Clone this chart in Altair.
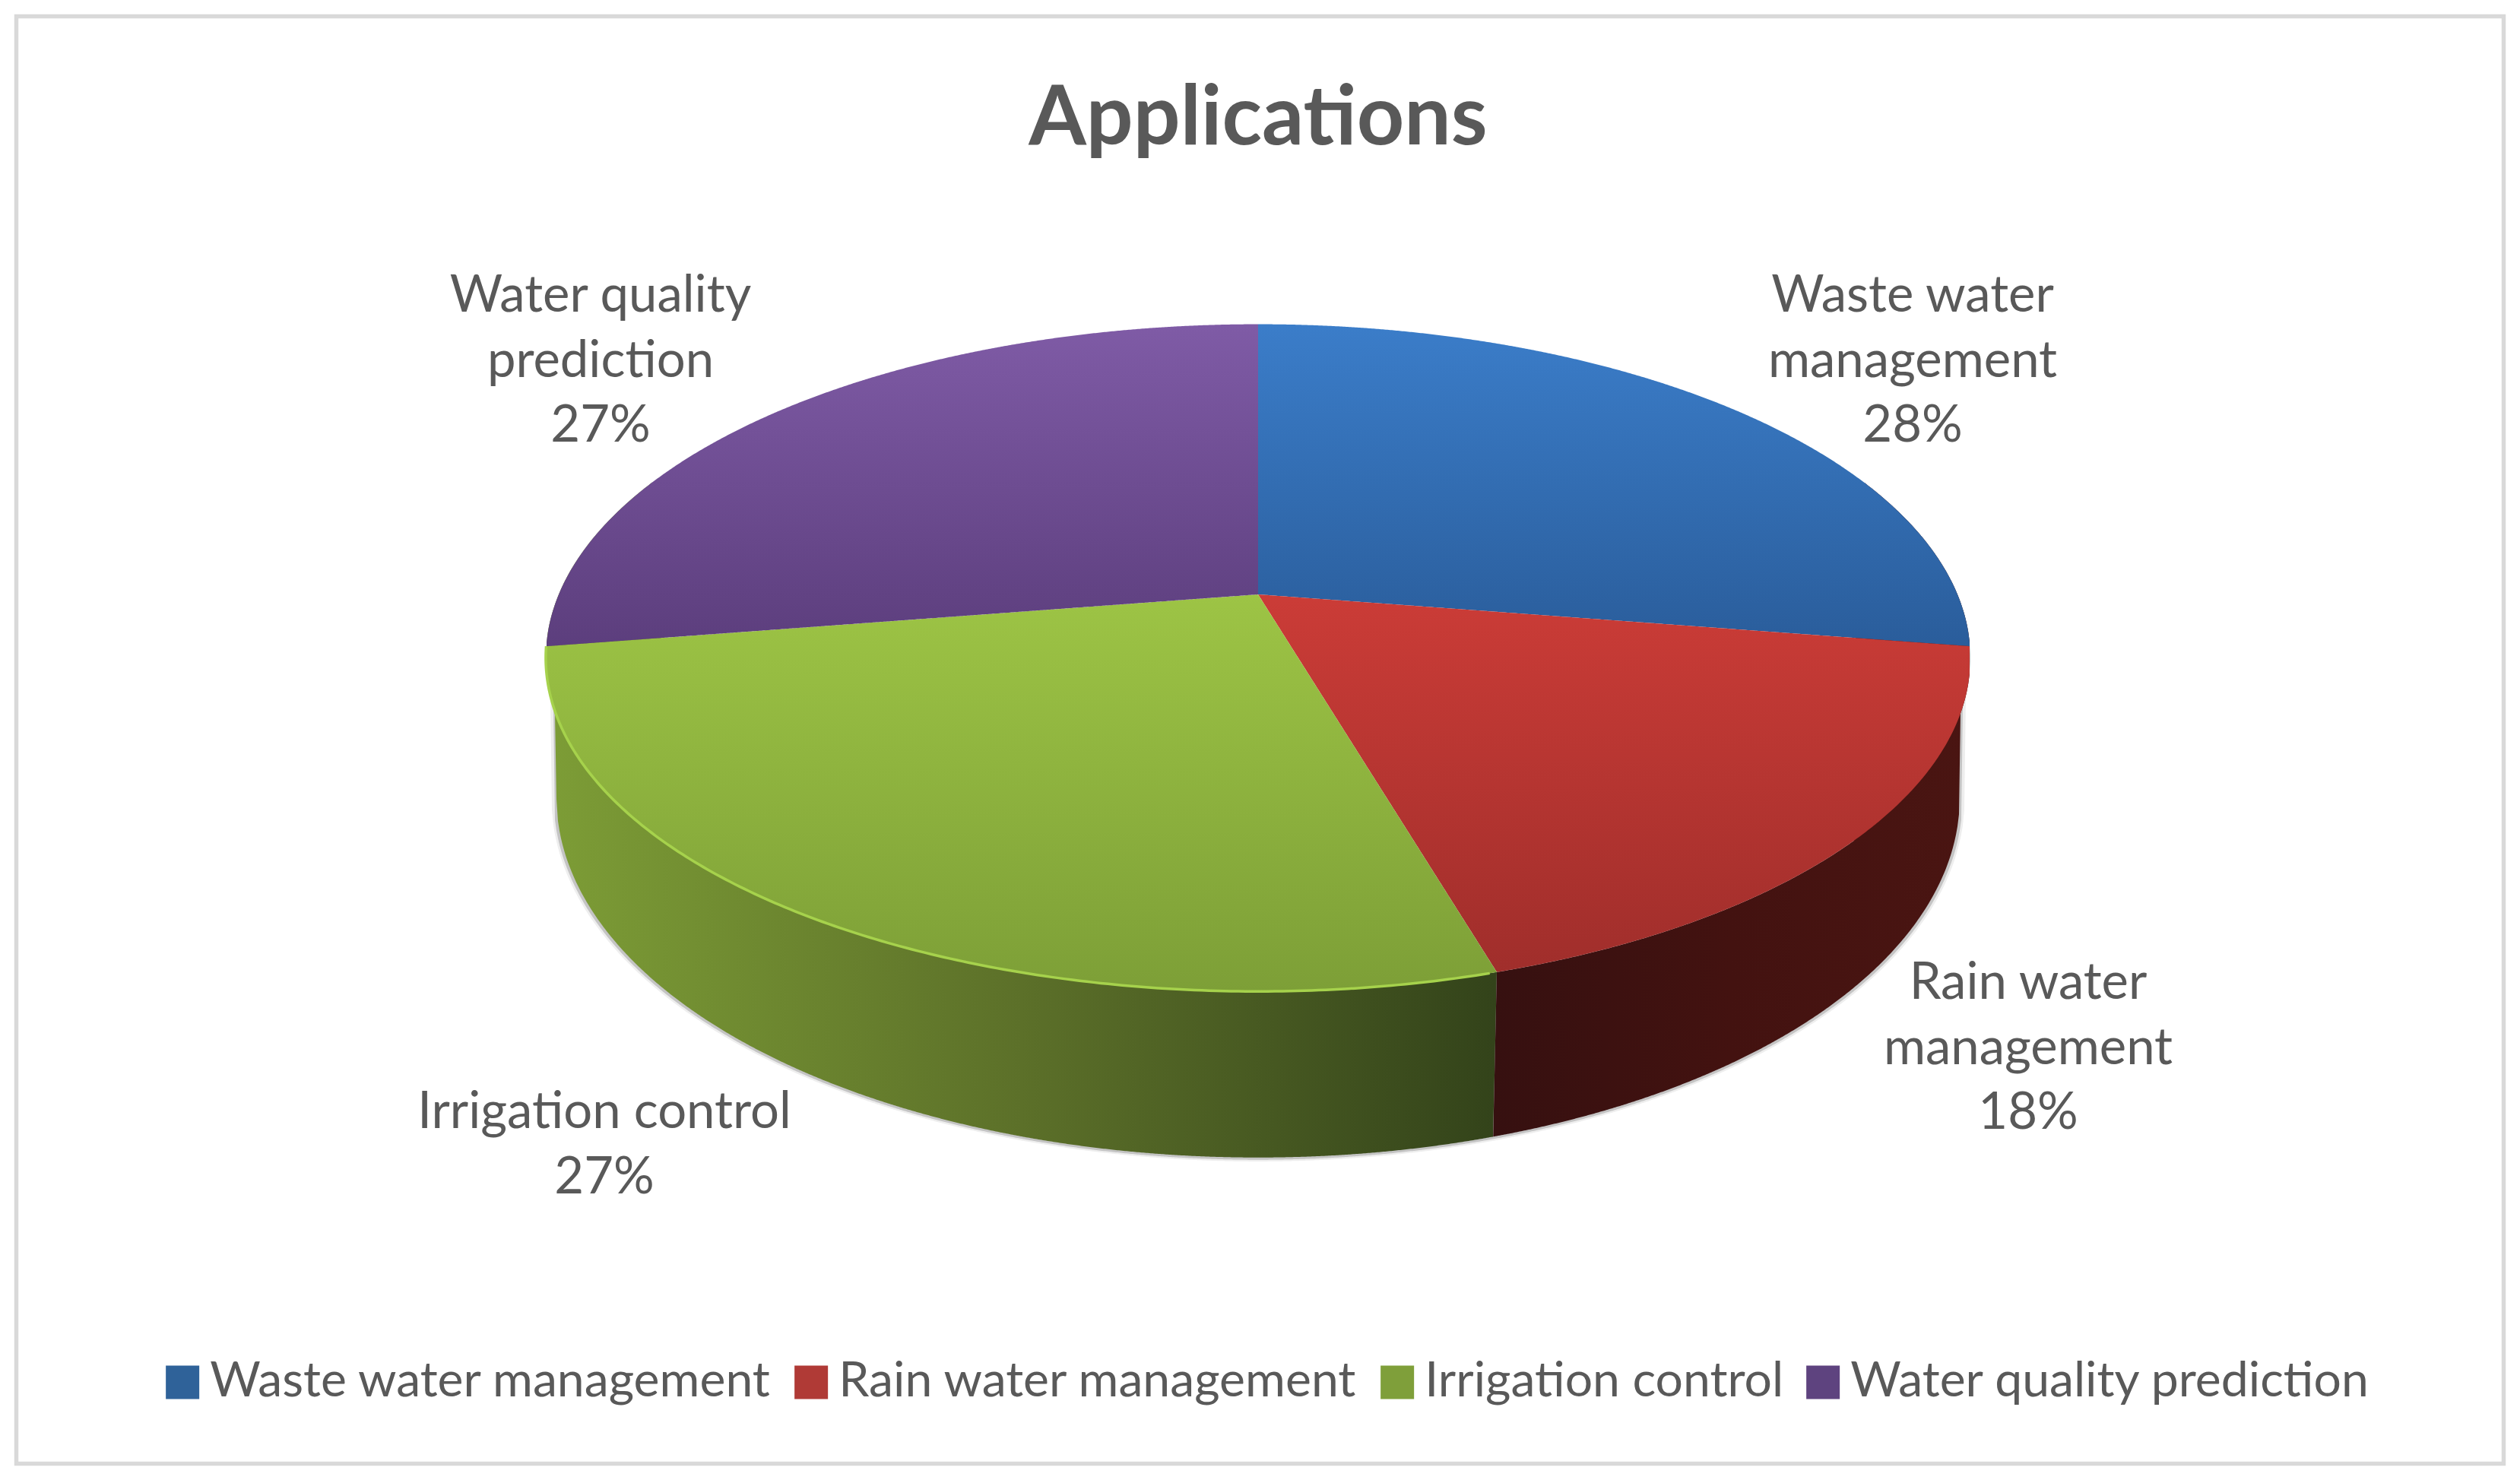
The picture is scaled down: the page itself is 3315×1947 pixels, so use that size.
import numpy as np
import pandas as pd
import altair as alt

# ---- data
categories = ["Waste water management", "Rain water management", "Irrigation control", "Water quality prediction"]
shares = [27.5, 18.0, 27.0, 27.5]
label_lines = [["Waste water", "management", "28%"],
               ["Rain water", "management", "18%"],
               ["Irrigation control", "27%"],
               ["Water quality", "prediction", "27%"]]
title_text = "Applications"

# ---- styles
face_stops = [("#3b7dc9", "#2a5d9b"), ("#cb3c37", "#a02e2b"), ("#9dc445", "#7d9f37"), ("#7f5ba6", "#5c3e7d")]
legend_colors = ["#2f6299", "#b03a36", "#7f9f3a", "#5e437f"]
label_anchor = [(2516, 410), (2668, 1314), (795, 1484), (790, 410)]
TEXT = "#595959"
W, H = 3299, 1931
CX, CY, A, B, K, DEPTH, SHRINK = 1655.0, 782.0, 920.0, 423.0, 0.19, 177.0, 0.985
FONT = "Lato"


def rim(phi, bottom=False, grow=1.0):
    r = np.radians(phi)
    X, Y = np.sin(r), np.cos(r)
    d = 1 + K * Y
    x = CX + A * X / d
    y = CY - B * Y / d
    if bottom:
        x = CX + (x - CX) * SHRINK * grow
        y = y + DEPTH / d + (grow - 1) * (y + DEPTH / d - CY)
    return x, y


def columns(px, py, step=2):
    px, py = np.asarray(px), np.asarray(py)
    xs = np.unique(np.round(np.concatenate([np.arange(np.ceil(px.min()), np.floor(px.max()) + 1, step), [px.min(), px.max()]]), 2))
    x0, y0, x1, y1 = px, py, np.roll(px, -1), np.roll(py, -1)
    out = []
    for x in xs:
        m = (np.minimum(x0, x1) <= x + 1e-6) & (x - 1e-6 <= np.maximum(x0, x1))
        ys = []
        for a, b, c, d in zip(x0[m], y0[m], x1[m], y1[m]):
            if abs(c - a) < 1e-9:
                ys += [b, d]
            else:
                ys.append(b + (d - b) * (x - a) / (c - a))
        if ys:
            out.append((float(x), round(min(ys), 2), round(max(ys), 2)))
    return pd.DataFrame(out, columns=["x", "y", "y2"])


X_ENC = alt.X("x:Q", scale=alt.Scale(domain=[8, 8 + W], nice=False, zero=False), axis=None)
Y_ENC = alt.Y("y:Q", scale=alt.Scale(domain=[8, 8 + H], nice=False, zero=False, reverse=True), axis=None)


def grad(stops, vertical=True):
    n = len(stops) - 1
    return alt.LinearGradient(
        gradient="linear",
        stops=[alt.GradientStop(color=c, offset=i / n) for i, c in enumerate(stops)],
        x1=0, x2=0 if vertical else 1, y1=0, y2=1 if vertical else 0,
    )


def area(df, fill, opacity=1.0):
    return alt.Chart(df).mark_area(color=fill, opacity=opacity, line=False, interpolate="linear").encode(
        x=X_ENC, y=Y_ENC, y2="y2:Q")


def wall(p0, p1, grow=1.0):
    phi = np.linspace(p0, p1, 260)
    tx, ty = rim(phi)
    bx, by = rim(phi[::-1], bottom=True, grow=grow)
    return columns(np.concatenate([tx, bx]), np.concatenate([ty, by]))


cum = np.concatenate([[0], np.cumsum(shares)]) * 3.6
layers = []

# border
layers.append(alt.Chart(pd.DataFrame({"a": [0]})).mark_rect(fill="white", stroke="#d9d9d9", strokeWidth=5.5).encode(
    x=alt.value(13.5), x2=alt.value(W - 13.5), y=alt.value(13.5), y2=alt.value(H - 13.5)))

# soft shadow round the wall
for g, c in [(1.007, "#eeeeee"), (1.004, "#c4c4c4")]:
    layers.append(area(wall(70, 290, grow=g), c))

# side walls: painted first, the top faces cover what lies behind
layers.append(area(wall(cum[2], 292), grad(["#7d9d36", "#5c7029", "#33431a"], vertical=False)))
layers.append(area(wall(68, cum[2]), grad(["#361010", "#431210", "#4a1512"], vertical=False)))

# top faces
for i in range(4):
    phi = np.linspace(cum[i], cum[i + 1], 300)
    x, y = rim(phi)
    px = np.concatenate([[CX], x])
    py = np.concatenate([[CY], y])
    layers.append(area(columns(px, py), grad(list(face_stops[i]))))

# light rim along the front of the irrigation slice
phi = np.linspace(cum[2] + 0.5, cum[3], 200)
x, y = rim(phi)
layers.append(alt.Chart(pd.DataFrame({"x": x.round(2), "y": y.round(2), "o": np.arange(len(x))})).mark_line(
    color="#a6d24c", strokeWidth=3.5).encode(x=X_ENC, y=Y_ENC, order="o:Q"))

# data labels
rows = []
for lines, (ax, ay) in zip(label_lines, label_anchor):
    for j, t in enumerate(lines):
        rows.append({"x": ax, "y": ay + j * 85.5, "t": t})
layers.append(alt.Chart(pd.DataFrame(rows)).mark_text(
    font=FONT, fontSize=67, color=TEXT, align="center", baseline="alphabetic").encode(x=X_ENC, y=Y_ENC, text="t:N"))

# title
layers.append(alt.Chart(pd.DataFrame({"x": [1655], "y": [190], "t": [title_text]})).mark_text(
    font=FONT, fontSize=109, fontWeight="bold", color=TEXT, align="center", baseline="alphabetic").encode(
    x=X_ENC, y=Y_ENC, text="t:N"))

# legend
layers.append(alt.Chart(pd.DataFrame({"x": [100] * 4, "y": [100] * 4, "cat": categories})).mark_square(size=0).encode(
    x=X_ENC, y=Y_ENC,
    color=alt.Color("cat:N", sort=categories, scale=alt.Scale(domain=categories, range=legend_colors),
                    legend=alt.Legend(title=None, orient="none", legendX=200, legendY=1778, direction="horizontal",
                                      columns=4, symbolType="square", symbolSize=1936, symbolOpacity=1,
                                      symbolStrokeWidth=0, labelFont=FONT, labelFontSize=64.3, labelColor=TEXT,
                                      labelLimit=1200, columnPadding=19, labelOffset=4))))

chart = alt.layer(*layers).properties(width=W, height=H, padding=0,
                                      autosize=alt.AutoSizeParams(type="none"),
                                      background="white").configure_view(stroke=None)
chart.save("out.html", embed_options={"renderer": "svg", "actions": False})
